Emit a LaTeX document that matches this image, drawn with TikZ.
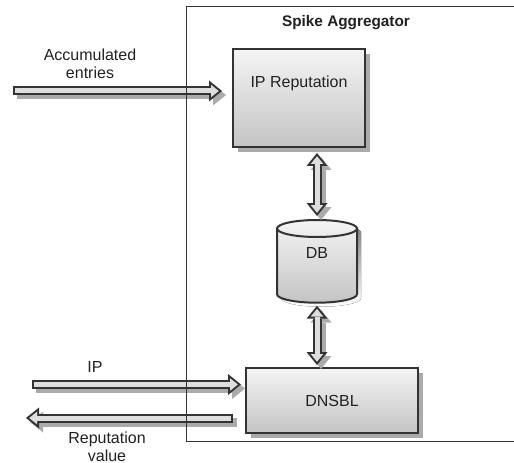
\documentclass[tikz,border=0pt]{standalone}
\usepackage{fontspec}
\setmainfont{Liberation Sans}
\usetikzlibrary{arrows.meta,shadows,calc}

\definecolor{rim}{HTML}{333333}
\definecolor{boxtop}{HTML}{F4F4F4}
\definecolor{boxbot}{HTML}{C4C4C4}
\definecolor{arrowbody}{HTML}{DEDEDE}
\definecolor{shade}{HTML}{ABABAB}
\definecolor{ink}{HTML}{222222}

\tikzset{
  every node/.style={text=ink, font=\fontsize{12}{13.5}\selectfont},
  component/.style={draw=rim, line width=1.5pt, top color=boxtop, bottom color=boxbot,
    inner sep=0pt, outer sep=0pt,
    drop shadow={shadow xshift=3.75pt, shadow yshift=-3.75pt, fill=shade, opacity=1}},
  arrowshadow/.style={draw=shade, line width=6.75pt, transform canvas={shift={(3pt,-3pt)}}},
  arrowrim/.style={draw=rim, line width=6.75pt},
  arrowcore/.style={draw=arrowbody, line width=3.75pt},
}

% hollow block arrow with a drop shadow, single and double headed
\newcommand\singlearrow[2]{%
  \draw[arrowshadow,-{Triangle[length=9.75pt,width=15.75pt,line width=0pt]}] #1 -- #2;
  \draw[arrowrim,-{Triangle[length=9.75pt,width=15.75pt,line width=0pt]}] #1 -- #2;
  \draw[arrowcore,-{Triangle[length=5.85pt,width=9.45pt,line width=0pt]},
        shorten <=1.5pt, shorten >=2.4pt] #1 -- #2;}
\newcommand\doublearrow[2]{%
  \draw[arrowshadow,{Triangle[length=9.75pt,width=15.75pt,line width=0pt]}-{Triangle[length=9.75pt,width=15.75pt,line width=0pt]}] #1 -- #2;
  \draw[arrowrim,{Triangle[length=9.75pt,width=15.75pt,line width=0pt]}-{Triangle[length=9.75pt,width=15.75pt,line width=0pt]}] #1 -- #2;
  \draw[arrowcore,{Triangle[length=5.85pt,width=9.45pt,line width=0pt]}-{Triangle[length=5.85pt,width=9.45pt,line width=0pt]},
        shorten <=2.4pt, shorten >=2.4pt] #1 -- #2;}

\begin{document}
\begin{tikzpicture}[x=0.75pt,y=-0.75pt]
\useasboundingbox (0,0) rectangle (514,463);
\fill[white] (0,0) rectangle (514,463);

% components
\node (iprep) [component, minimum width=99pt, minimum height=73.5pt,
  label={[yshift=11.25pt]center:IP Reputation}] at (299,98) {};
\node (dnsbl) [component, minimum width=129pt, minimum height=48.75pt] at (332,400.5) {DNSBL};

% database cylinder: shadow, shaded body, front rim of the lid
\begin{scope}[transform canvas={shift={(3pt,-3pt)}}]
  \fill[shade] (277,228.5) -- (277,294.2) arc[start angle=180,end angle=360,x radius=30pt,y radius=6.375pt]
    -- (357,228.5) arc[start angle=0,end angle=180,x radius=30pt,y radius=6.375pt] -- cycle;
\end{scope}
\draw[rim, line width=1.5pt, top color=boxtop, bottom color=boxbot]
  (277,228.5) -- (277,294.2) arc[start angle=180,end angle=360,x radius=30pt,y radius=6.375pt]
  -- (357,228.5) arc[start angle=0,end angle=180,x radius=30pt,y radius=6.375pt] -- cycle;
\draw[rim, line width=1.5pt] (277,228.5) arc[start angle=180,end angle=360,x radius=30pt,y radius=6.375pt];
\node (db) [inner sep=0pt, outer sep=0pt, minimum width=60pt, minimum height=62pt,
  label={[yshift=6pt]center:DB}] at (317,261.35) {};

% free ends of the external connectors
\coordinate (accin) at (13,91);
\coordinate (ipin) at (32,384.5);
\coordinate (repout) at (26,418);

% connectors
\singlearrow{(accin)}{($(accin -| iprep.west)+(-11,0)$)}
\doublearrow{($(db.north |- iprep.south)+(0,6)$)}{($(db.north)+(0,-4)$)}
\doublearrow{($(db.south)+(0,3)$)}{($(db.south |- dnsbl.north)+(0,-3)$)}
\singlearrow{(ipin)}{($(ipin -| dnsbl.west)+(-5,0)$)}
\singlearrow{($(repout -| dnsbl.west)+(-13,0)$)}{(repout)}

% labels
\node (acclabel) [align=center] at (90,64) {Accumulated\\entries};
\node (iplabel) at (95,367) {IP};
\node (replabel) [align=center] at (107,446.5) {Reputation\\value};

% enclosing aggregator frame: top, left and bottom sides, running off to the right
\coordinate (aggtl) at (186,7);
\coordinate (aggtr) at (514,7);
\coordinate (aggbl) at (186,441);
\coordinate (aggbr) at (514,441);
\draw[rim, line width=0.75pt] (aggtl) -- (aggtr);
\draw[rim, line width=0.75pt] (aggtl) -- (aggbl);
\draw[rim, line width=0.75pt] (aggbl) -- (aggbr);
\node (aggtitle) [font=\fontsize{11.5}{13.5}\selectfont\bfseries] at (346,23) {Spike Aggregator};
\end{tikzpicture}
\end{document}
